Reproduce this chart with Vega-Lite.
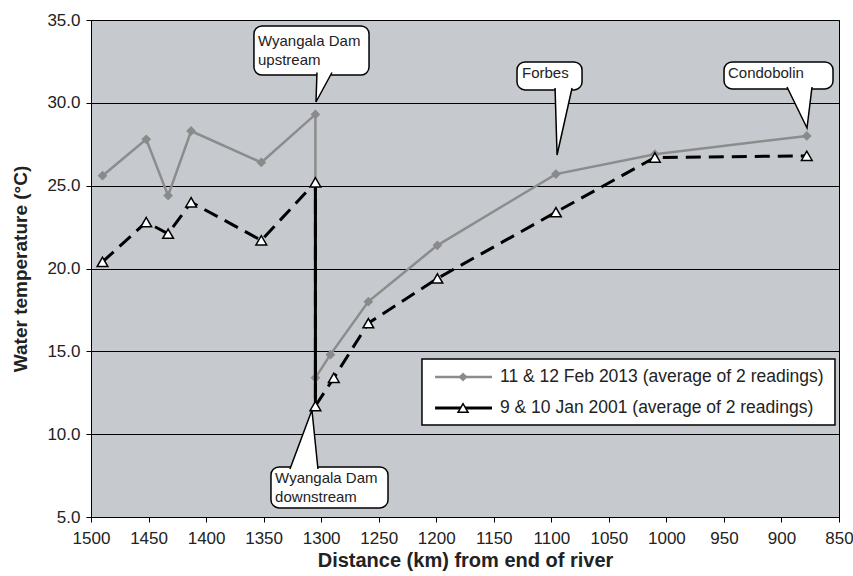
{
  "$schema": "https://vega.github.io/schema/vega-lite/v6.json",
  "width": 748,
  "height": 497,
  "autosize": {"type": "none"},
  "padding": {"left": 91, "top": 20, "right": 14, "bottom": 59},
  "background": "#ffffff",
  "config": {
    "font": "Liberation Sans",
    "view": {"fill": "#c6cacf", "stroke": "#000000", "strokeWidth": 1},
    "axis": {
      "labelFont": "Liberation Sans",
      "titleFont": "Liberation Sans",
      "labelColor": "#222222",
      "titleColor": "#222222",
      "domainColor": "#000000",
      "tickColor": "#000000",
      "labelFontSize": 17,
      "titleFontWeight": "bold",
      "tickSize": 5
    }
  },
  "datasets": {
    "obs": [
      {"series": "2013", "seq": 1, "km": 1490, "temp": 25.6},
      {"series": "2013", "seq": 2, "km": 1452, "temp": 27.8},
      {"series": "2013", "seq": 3, "km": 1433, "temp": 24.4},
      {"series": "2013", "seq": 4, "km": 1413, "temp": 28.3},
      {"series": "2013", "seq": 5, "km": 1352, "temp": 26.4},
      {"series": "2013", "seq": 6, "km": 1305, "temp": 29.3},
      {"series": "2013", "seq": 7, "km": 1305, "temp": 13.4},
      {"series": "2013", "seq": 8, "km": 1292, "temp": 14.8},
      {"series": "2013", "seq": 9, "km": 1259, "temp": 18.0},
      {"series": "2013", "seq": 10, "km": 1199, "temp": 21.4},
      {"series": "2013", "seq": 11, "km": 1096, "temp": 25.7},
      {"series": "2013", "seq": 12, "km": 1010, "temp": 26.9},
      {"series": "2013", "seq": 13, "km": 878, "temp": 28.0},
      {"series": "2001", "seq": 1, "km": 1490, "temp": 20.4},
      {"series": "2001", "seq": 2, "km": 1452, "temp": 22.8},
      {"series": "2001", "seq": 3, "km": 1433, "temp": 22.1},
      {"series": "2001", "seq": 4, "km": 1413, "temp": 24.0},
      {"series": "2001", "seq": 5, "km": 1352, "temp": 21.7},
      {"series": "2001", "seq": 6, "km": 1305, "temp": 25.2},
      {"series": "2001", "seq": 7, "km": 1305, "temp": 11.7},
      {"series": "2001", "seq": 8, "km": 1289, "temp": 13.4},
      {"series": "2001", "seq": 9, "km": 1259, "temp": 16.7},
      {"series": "2001", "seq": 10, "km": 1199, "temp": 19.4},
      {"series": "2001", "seq": 11, "km": 1096, "temp": 23.4},
      {"series": "2001", "seq": 12, "km": 1010, "temp": 26.7},
      {"series": "2001", "seq": 13, "km": 878, "temp": 26.8}
    ],
    "legendbox": [{"km": 1212.4, "km2": 853.5, "temp": 14.54, "temp2": 10.56}],
    "legend": [
      {"series": "2013", "km": 1201, "km2": 1151.5, "mid": 1176.7, "textkm": 1144.6, "temp": 13.45, "label": "11 & 12 Feb 2013 (average of 2 readings)"},
      {"series": "2001", "km": 1201, "km2": 1151.5, "mid": 1176.7, "textkm": 1144.6, "temp": 11.58, "label": "9 & 10 Jan 2001 (average of 2 readings)"}
    ],
    "boxes": [
      {"name": "up", "km": 1358.4, "km2": 1258.4, "temp": 34.64, "temp2": 31.68},
      {"name": "forbes", "km": 1129.8, "km2": 1073.3, "temp": 32.47, "temp2": 30.78},
      {"name": "condo", "km": 949.9, "km2": 855.2, "temp": 32.47, "temp2": 30.84},
      {"name": "down", "km": 1343.6, "km2": 1241.9, "temp": 8.02, "temp2": 5.55}
    ],
    "tails": [
      {"name": "up", "km": 1304.5, "temp": 30.05},
      {"name": "forbes", "km": 1095, "temp": 26.85},
      {"name": "condo", "km": 877.8, "temp": 28.48},
      {"name": "down", "km": 1308, "temp": 11.46}
    ],
    "labels": [
      {"km": 1354.9, "temp": 33.73, "text": "Wyangala Dam"},
      {"km": 1354.9, "temp": 32.59, "text": "upstream"},
      {"km": 1125.5, "temp": 31.8, "text": "Forbes"},
      {"km": 946.5, "temp": 31.8, "text": "Condobolin"},
      {"km": 1340, "temp": 7.36, "text": "Wyangala Dam"},
      {"km": 1340, "temp": 6.21, "text": "downstream"}
    ]
  },
  "layer": [
    {
      "data": {"name": "obs"},
      "transform": [{"filter": "datum.series === '2013'"}],
      "mark": {"type": "line", "color": "#8c8c8c", "strokeWidth": 2.5},
      "encoding": {
        "x": {"field": "km", "type": "quantitative",
          "scale": {"domain": [1500, 850], "nice": false, "zero": false},
          "axis": {"title": "Distance (km) from end of river", "titleFontSize": 20, "values": [1500,1450,1400,1350,1300,1250,1200,1150,1100,1050,1000,950,900,850], "format": "d", "grid": false, "labelPadding": 8, "titlePadding": 4, "labelFlush": false}},
        "y": {"field": "temp", "type": "quantitative",
          "scale": {"domain": [5, 35], "nice": false, "zero": false},
          "axis": {"title": "Water temperature (°C)", "titleFontSize": 19, "values": [5,10,15,20,25,30,35], "format": ".1f", "grid": true, "gridColor": "#000000", "gridWidth": 1, "gridOpacity": 1, "labelPadding": 6, "titlePadding": 16}},
        "order": {"field": "seq", "type": "quantitative"}
      }
    },
    {
      "data": {"name": "obs"},
      "transform": [{"filter": "datum.series === '2013'"}],
      "mark": {"type": "point", "shape": "diamond", "filled": true, "color": "#8a8a8a", "size": 95, "opacity": 1},
      "encoding": {
        "x": {"field": "km", "type": "quantitative"},
        "y": {"field": "temp", "type": "quantitative"}
      }
    },
    {
      "data": {"name": "obs"},
      "transform": [{"filter": "datum.series === '2001'"}],
      "mark": {"type": "line", "color": "#000000", "strokeWidth": 3, "strokeDash": [15, 8]},
      "encoding": {
        "x": {"field": "km", "type": "quantitative"},
        "y": {"field": "temp", "type": "quantitative"},
        "order": {"field": "seq", "type": "quantitative"}
      }
    },
    {
      "data": {"name": "obs"},
      "transform": [{"filter": "datum.series === '2001' && (datum.seq === 6 || datum.seq === 7)"}],
      "mark": {"type": "line", "color": "#000000", "strokeWidth": 3},
      "encoding": {
        "x": {"field": "km", "type": "quantitative"},
        "y": {"field": "temp", "type": "quantitative"},
        "order": {"field": "seq", "type": "quantitative"}
      }
    },
    {
      "data": {"name": "obs"},
      "transform": [{"filter": "datum.series === '2001'"}],
      "mark": {"type": "point", "shape": "triangle-up", "filled": true, "fill": "#ffffff", "stroke": "#000000", "strokeWidth": 1.5, "size": 115, "opacity": 1},
      "encoding": {
        "x": {"field": "km", "type": "quantitative"},
        "y": {"field": "temp", "type": "quantitative"}
      }
    },
    {
      "data": {"name": "legendbox"},
      "mark": {"type": "rect", "fill": "#ffffff", "stroke": "#000000", "strokeWidth": 1.5},
      "encoding": {
        "x": {"field": "km", "type": "quantitative"},
        "x2": {"field": "km2"},
        "y": {"field": "temp", "type": "quantitative"},
        "y2": {"field": "temp2"}
      }
    },
    {
      "data": {"name": "legend"},
      "transform": [{"filter": "datum.series === '2013'"}],
      "mark": {"type": "rule", "color": "#8c8c8c", "strokeWidth": 2.5},
      "encoding": {
        "x": {"field": "km", "type": "quantitative"},
        "x2": {"field": "km2"},
        "y": {"field": "temp", "type": "quantitative"}
      }
    },
    {
      "data": {"name": "legend"},
      "transform": [{"filter": "datum.series === '2001'"}],
      "mark": {"type": "rule", "color": "#000000", "strokeWidth": 3},
      "encoding": {
        "x": {"field": "km", "type": "quantitative"},
        "x2": {"field": "km2"},
        "y": {"field": "temp", "type": "quantitative"}
      }
    },
    {
      "data": {"name": "legend"},
      "transform": [{"filter": "datum.series === '2013'"}],
      "mark": {"type": "point", "shape": "diamond", "filled": true, "color": "#8a8a8a", "size": 80, "opacity": 1},
      "encoding": {
        "x": {"field": "mid", "type": "quantitative"},
        "y": {"field": "temp", "type": "quantitative"}
      }
    },
    {
      "data": {"name": "legend"},
      "transform": [{"filter": "datum.series === '2001'"}],
      "mark": {"type": "point", "shape": "triangle-up", "filled": true, "fill": "#ffffff", "stroke": "#000000", "strokeWidth": 1.5, "size": 100, "opacity": 1},
      "encoding": {
        "x": {"field": "mid", "type": "quantitative"},
        "y": {"field": "temp", "type": "quantitative"}
      }
    },
    {
      "data": {"name": "legend"},
      "mark": {"type": "text", "align": "left", "baseline": "middle", "fontSize": 17.5, "color": "#222222", "font": "Liberation Sans"},
      "encoding": {
        "x": {"field": "textkm", "type": "quantitative"},
        "y": {"field": "temp", "type": "quantitative"},
        "text": {"field": "label"}
      }
    },
    {
      "data": {"name": "boxes"},
      "mark": {"type": "rect", "fill": "#ffffff", "stroke": "#000000", "strokeWidth": 1.5, "cornerRadius": 8},
      "encoding": {
        "x": {"field": "km", "type": "quantitative"},
        "x2": {"field": "km2"},
        "y": {"field": "temp", "type": "quantitative"},
        "y2": {"field": "temp2"}
      }
    },
    {
      "data": {"name": "tails"},
      "mark": {"type": "point", "filled": true, "fill": "#ffffff", "stroke": "#000000", "strokeWidth": 1.5, "size": 4, "opacity": 1},
      "encoding": {
        "x": {"field": "km", "type": "quantitative"},
        "y": {"field": "temp", "type": "quantitative"},
        "shape": {"field": "name", "type": "nominal", "legend": null,
          "scale": {"domain": ["up", "forbes", "condo", "down"],
            "range": ["M1,-29.5L0,0L16,-29.5", "M-2,-67L0,0L15,-67", "M-20,-41L0,0L5,-41", "M-22,59L0,0L6,59"]}}
      }
    },
    {
      "data": {"name": "labels"},
      "mark": {"type": "text", "align": "left", "baseline": "middle", "fontSize": 15, "color": "#222222", "font": "Liberation Sans"},
      "encoding": {
        "x": {"field": "km", "type": "quantitative"},
        "y": {"field": "temp", "type": "quantitative"},
        "text": {"field": "text"}
      }
    }
  ]
}
